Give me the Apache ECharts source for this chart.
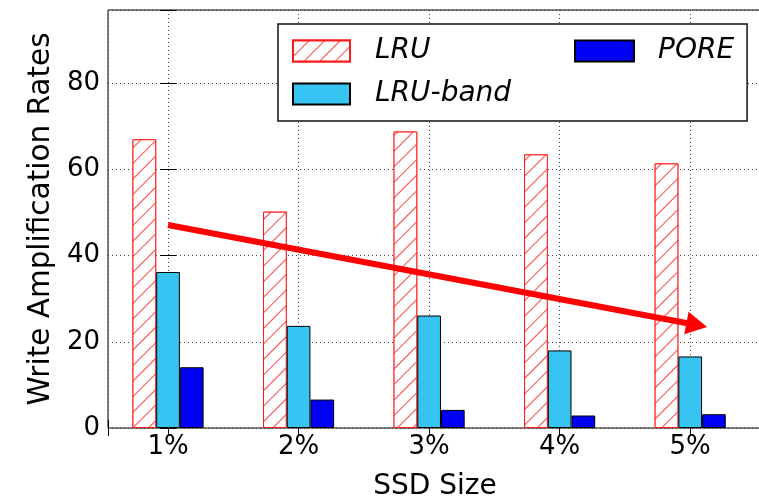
<!DOCTYPE html>
<html>
<head>
<meta charset="utf-8">
<script src="https://cdn.jsdelivr.net/npm/echarts@6/dist/echarts.min.js"></script>
<style>
html,body{margin:0;padding:0;background:#fff;}
#chart{width:759px;height:497px;}
</style>
</head>
<body>
<div id="chart"></div>
<script>
const categories = ['1%', '2%', '3%', '4%', '5%'];
const xPositions = [0, 1, 2, 3, 4];
const lruValues = [67.0, 50.2, 68.8, 63.5, 61.4];
const lruBandValues = [36.2, 23.7, 26.1, 18.0, 16.6];
const poreValues = [14.1, 6.6, 4.2, 2.9, 3.2];
const yTickValues = [0, 20, 40, 60, 80];
const xRange = [-0.46, 4.55];
const yRange = [0, 97];
const arrowStart = [0, 47.1];
const arrowEnd = [4.05, 23.9];

const FONT = 'DejaVu Sans';
const chart = echarts.init(document.getElementById('chart'), null, {renderer: 'canvas'});

function pairs(vals) { return xPositions.map((x, i) => [x, vals[i]]); }

const commonX = {
  type: 'value', min: xRange[0], max: xRange[1]
};
const commonY = {
  type: 'value', min: yRange[0], max: yRange[1], interval: 20
};

const option = {
  animation: false,
  backgroundColor: '#fff',
  textStyle: {fontFamily: FONT},
  grid: {
    left: 108, top: 10, width: 654, bottom: 69,
    containLabel: false,
    outerBoundsMode: 'none',
    show: true, borderColor: '#000', borderWidth: 1, backgroundColor: 'transparent'
  },
  xAxis: [
    Object.assign({}, commonX, {
      position: 'bottom',
      name: 'SSD Size', nameLocation: 'middle', nameGap: 45,
      nameTextStyle: {fontSize: 28, color: '#000', fontFamily: FONT},
      axisLine: {show: false},
      axisTick: {show: true, inside: true, length: 8, lineStyle: {color: '#000'}},
      axisLabel: {
        fontSize: 26, color: '#000', margin: 6, fontFamily: FONT,
        formatter: v => (Number.isInteger(v) && categories[v] !== undefined) ? categories[v] : ''
      },
      splitLine: {show: true, lineStyle: {color: '#444', type: [1, 3], width: 1}}
    }),
    Object.assign({}, commonX, {
      position: 'top',
      axisLine: {show: false},
      axisTick: {show: true, inside: true, length: 8, lineStyle: {color: '#000'}},
      axisLabel: {show: false},
      splitLine: {show: false}
    })
  ],
  yAxis: [
    Object.assign({}, commonY, {
      position: 'left',
      name: 'Write Amplification Rates', nameLocation: 'middle', nameGap: 51,
      nameTextStyle: {fontSize: 29.5, color: '#000', fontFamily: FONT},
      axisLine: {show: false},
      axisTick: {show: true, inside: true, length: 8, lineStyle: {color: '#000'}},
      axisLabel: {
        fontSize: 26, color: '#000', margin: 8, fontFamily: FONT,
        formatter: v => yTickValues.indexOf(v) >= 0 ? String(v) : ''
      },
      splitLine: {show: true, lineStyle: {color: '#444', type: [1, 3], width: 1}}
    }),
    Object.assign({}, commonY, {
      position: 'right',
      axisLine: {show: false},
      axisTick: {show: true, inside: true, length: 8, lineStyle: {color: '#000'}},
      axisLabel: {show: false},
      splitLine: {show: false}
    })
  ],
  legend: [
    {
      data: ['LRU', 'LRU-band'],
      orient: 'vertical',
      left: 278, top: 24,
      padding: [12, 236, 12, 14],
      itemGap: 13,
      itemWidth: 57, itemHeight: 21,
      icon: 'rect',
      selectedMode: false,
      borderColor: '#111', borderWidth: 1.5, backgroundColor: '#fff',
      textStyle: {fontSize: 28, fontStyle: 'italic', color: '#000', fontFamily: FONT, lineHeight: 30, padding: [0, 0, 0, 20]}
    },
    {
      data: ['PORE'],
      orient: 'vertical',
      left: 574, top: 36,
      padding: 0,
      itemWidth: 59, itemHeight: 21,
      icon: 'rect',
      selectedMode: false,
      z: 10,
      textStyle: {fontSize: 28, fontStyle: 'italic', color: '#000', fontFamily: FONT, lineHeight: 30, padding: [0, 0, 0, 19]}
    }
  ],
  series: [
    {
      name: 'LRU', type: 'bar', xAxisIndex: 0, yAxisIndex: 0,
      barWidth: 23.7, barGap: '0%',
      data: pairs(lruValues),
      itemStyle: {
        color: '#ffffff', borderColor: '#ff1a1a', borderWidth: 1,
        decal: {
          symbol: 'rect', symbolSize: 1,
          dashArrayX: [1, 0], dashArrayY: [1, 9.5],
          rotation: -Math.PI / 4,
          color: '#ff4545', backgroundColor: '#ffffff'
        }
      },
      emphasis: {disabled: true}
    },
    {
      name: 'LRU-band', type: 'bar', xAxisIndex: 0, yAxisIndex: 0,
      barWidth: 23.7, barGap: '0%',
      data: pairs(lruBandValues),
      itemStyle: {color: '#38c4f2', borderColor: '#000', borderWidth: 1},
      emphasis: {disabled: true},
      markLine: {
        silent: true,
        z: 10,
        symbol: ['none', 'triangle'],
        symbolSize: [23, 21],
        label: {show: false},
        lineStyle: {color: '#ff0000', width: 6, type: 'solid'},
        data: [[{coord: arrowStart}, {coord: arrowEnd}]]
      }
    },
    {
      name: 'PORE', type: 'bar', xAxisIndex: 0, yAxisIndex: 0,
      barWidth: 23.7, barGap: '0%',
      data: pairs(poreValues),
      itemStyle: {color: '#0000f5', borderColor: '#000', borderWidth: 1},
      emphasis: {disabled: true}
    }
  ]
};
chart.setOption(option);
</script>
</body>
</html>
